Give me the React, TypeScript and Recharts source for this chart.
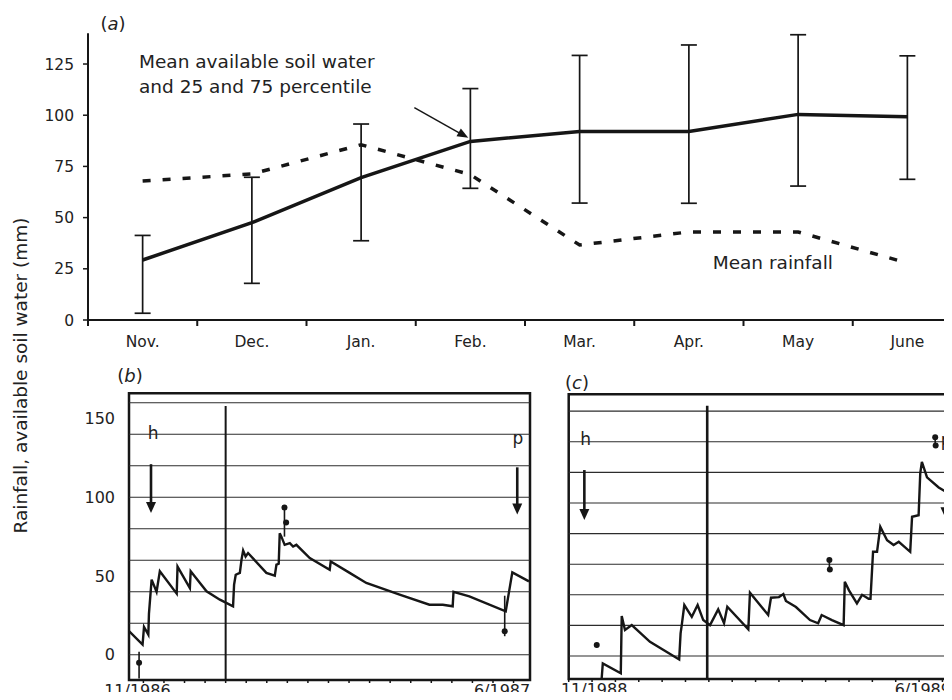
import React from "react";
import {
  ComposedChart,
  LineChart,
  Line,
  XAxis,
  YAxis,
  ErrorBar,
  ReferenceLine,
  ReferenceDot,
  ReferenceArea,
} from "recharts";

const FONT = "'DejaVu Sans', 'Liberation Sans', sans-serif";
const INK = "#161616";
const TXT = "#222";

// (a) monthly means, Nov..June
const months = ["Nov.", "Dec.", "Jan.", "Feb.", "Mar.", "Apr.", "May", "June"];
const meanSoilWater = [29.3, 47.5, 69.5, 87.2, 92.1, 92.1, 100.4, 99.3];
const soilWaterP25 = [3.3, 17.9, 38.7, 64.3, 57.1, 57, 65.4, 68.7];
const soilWaterP75 = [41.3, 69.7, 95.7, 113, 129.2, 134.3, 139.3, 129];
const meanRainfall = [67.9, 71.3, 85.6, 71, 36.6, 43, 43, 27.8];
const aYTicks = [0, 25, 50, 75, 100, 125];
const aXTicks = [0, 0.5, 1, 1.5, 2, 2.5, 3, 3.5, 4, 4.5, 5, 5.5, 6, 6.5, 7, 7.5, 8];

// (b) season 11/1986 - 6/1987 (days from start)
const bDays = [
  0, 6.6, 7.3, 9.4, 9.7, 11, 13.4, 15, 23.2, 23.6, 29.6, 30, 37.7, 44.2, 50.6,
  51.1, 51.9, 53.9, 54.7, 55.5, 56.7, 57.9, 66.8, 70.9, 71.7, 72.8, 73.3, 74.1,
  75.7, 78.2, 79.8, 81.4, 87.9, 97.6, 98.1, 107.3, 115.4, 131.6, 146.1, 152.6,
  157.4, 157.8, 165.5, 183.2, 186.4, 194.5,
];
const bSoilWater = [
  15, 6.5, 17.7, 12.8, 26, 47.7, 40, 53, 38.8, 56, 42.4, 53, 40.3, 35, 30.8,
  44.5, 50.8, 52, 60.3, 66.2, 62.4, 64.6, 52, 50.2, 57.2, 57.8, 77.2, 75,
  69.8, 70.9, 68.7, 69.8, 61.4, 54, 59.2, 52, 45.6, 38.2, 31.8, 31.8,
  30.8, 40, 37.1, 27.6, 52.3, 46.6,
];
const bObsDays = [4.9, 75.6, 76.4, 182.7];
const bObsValues = [-5, 93.5, 84, 15];
const bObsLow = [-15, 75, 84, 11.8];
const bObsHigh = [2, 93.5, 84, 37.5];
const bArrowDays = [10.7, 188.8];
const bArrowTop = [121, 119];
const bArrowTip = [90, 89];
const bLabelDays = [11.7, 189.1];
const bLabelValues = [137, 134];
const bLabels = ["h", "p"];
const bMinorTicks = [7, 17, 27, 37, 47, 57, 67, 77, 87, 97, 107, 117, 127, 137, 147, 157, 167, 177, 187];
const bDateDays = [4.1, 181.4];
const bDateLabels = ["11/1986", "6/1987"];
const bYTicks = [0, 50, 100, 150];

// (c) season 11/1988 - 6/1989 (days from start)
const cDays = [
  14.1, 14.6, 22.3, 22.7, 24.1, 27, 34.8, 47.3, 47.9, 48.4, 49.5, 52.7, 55.2,
  57.6, 60.5, 64, 66.5, 67.9, 76.9, 77.6, 85.4, 86.6, 90, 91.9, 93, 97.3,
  103.3, 106.8, 108.3, 112.7, 117.7, 118.2, 120, 123.4, 125.6, 128.4, 129.2,
  130.3, 132, 133.4, 136.3, 139.1, 141.3, 146.2, 147, 149.8, 150.5, 151.2,
  153.4, 158.4, 164.1, 170,
];
const cSoilWater = [
  -15, -4.8, -11.3, 26.1, 17, 20.2, 9.3, -2.2, 14.8, 20.2, 33.3, 25.6, 33.3,
  23.5, 20.2, 30.5, 21.4, 32.2, 17.4, 41.4, 26.8, 38.1, 38.5, 40.5, 36, 32,
  23.5, 21.4, 26.8, 23.5, 20.2, 48.5, 42.9, 34.4, 40, 37.4, 37.4,
  68.1, 68.1, 84.4, 75.7, 72.5, 74.6, 68.1, 91, 92, 119.3, 126.9,
  116.7, 110.1, 105, 102,
];
const cObsDays = [12, 111.6, 111.8, 156.9, 157.1];
const cObsValues = [7.2, 62.7, 56.5, 143, 137.5];
const cObsLow = [5.7, 56.5, 56.5, 137.5, 137.5];
const cObsHigh = [8.7, 62.7, 56.5, 143, 137.5];
const cArrowDays = [6.7, 161.3];
const cArrowTop = [121.5, 121];
const cArrowTip = [88.8, 90];
const cLabelDays = [7.3, 161.6];
const cLabelValues = [137.8, 137];
const cLabels = ["h", "p"];
const cMinorTicks = [0, 10, 20, 30, 40, 50, 60, 70, 80, 90, 100, 110, 120, 130, 140, 150, 160, 170, 180, 190];
const cDateDays = [10.9, 151.6];
const cDateLabels = ["11/1988", "6/1989"];

const gridValues = [0, 20, 40, 60, 80, 100, 120, 140, 160];

const aData = months.map((m, i) => ({
  x: i + 0.5,
  month: m,
  mean: meanSoilWater[i],
  rain: meanRainfall[i],
  err: [meanSoilWater[i] - soilWaterP25[i], soilWaterP75[i] - meanSoilWater[i]],
}));

function MonthTick(props: any) {
  const { x, y, payload } = props;
  const v = payload.value;
  if (Number.isInteger(v)) {
    return <line x1={x} x2={x} y1={y} y2={y + 6} stroke={INK} strokeWidth={2} />;
  }
  return (
    <text x={x} y={y + 27} textAnchor="middle" fontSize={15.5} fill={TXT}>
      {months[Math.floor(v)]}
    </text>
  );
}

const downHead = (p: any) => (
  <polygon points={`${p.cx - 5},${p.cy - 11} ${p.cx + 5},${p.cy - 11} ${p.cx},${p.cy}`} fill={INK} />
);

function PanelA() {
  return (
    <div style={{ position: "absolute", left: 0, top: 0 }}>
      <LineChart width={962} height={360} data={aData} margin={{ top: 33.3, right: 0, bottom: 0, left: 0 }}>
        <XAxis
          type="number"
          dataKey="x"
          domain={[0, 8]}
          ticks={aXTicks}
          interval={0}
          height={40}
          tickSize={0}
          tickMargin={0}
          tickLine={false}
          axisLine={{ stroke: INK, strokeWidth: 2 }}
          tick={(p: any) => <MonthTick {...p} />}
        />
        <YAxis
          type="number"
          domain={[0, 140]}
          ticks={aYTicks}
          width={88}
          tickSize={5}
          tickMargin={9}
          axisLine={{ stroke: INK, strokeWidth: 2 }}
          tickLine={{ stroke: INK, strokeWidth: 1.5 }}
          tick={{ fontSize: 15.5, fill: TXT }}
        />
        <Line
          dataKey="rain"
          type="linear"
          stroke={INK}
          strokeWidth={3.5}
          strokeDasharray="8 12"
          dot={false}
          isAnimationActive={false}
        />
        <Line dataKey="mean" type="linear" stroke={INK} strokeWidth={3.5} dot={false} isAnimationActive={false}>
          <ErrorBar dataKey="err" direction="y" width={8} stroke={INK} strokeWidth={1.7} isAnimationActive={false} />
        </Line>
        <ReferenceLine
          segment={[
            { x: 2.987, y: 103.7 },
            { x: 3.45, y: 89.8 },
          ]}
          stroke={INK}
          strokeWidth={1.5}
        />
        <ReferenceDot
          x={3.481}
          y={89}
          shape={(p: any) => (
            <polygon points="0,0 -11,-4.5 -11,4.5" fill={INK} transform={`translate(${p.cx},${p.cy}) rotate(29)`} />
          )}
        />
      </LineChart>
    </div>
  );
}

function TracePanel(props: any) {
  const {
    left, width, marginLeft, marginTop, xAxisHeight, yDomain, yTicks, yAxisWidth,
    days, values, obsDays, obsValues, obsLow, obsHigh,
    arrowDays, arrowTop, arrowTip, labelDays, labelValues, labels,
    minorTicks, dateDays, dateLabels, labelDy, vline, vlineTop, vlineWidth,
  } = props;
  const series = days.map((d: number, i: number) => ({ d, v: values[i] }));
  const obs = obsDays.map((d: number, i: number) => ({
    d,
    v: obsValues[i],
    err: [obsValues[i] - obsLow[i], obsHigh[i] - obsValues[i]],
  }));
  const ticks = [...minorTicks, ...dateDays].sort((a, b) => a - b);
  const dateTick = (p: any) => {
    const idx = dateDays.indexOf(p.payload.value);
    if (idx >= 0) {
      return (
        <text x={p.x} y={p.y + labelDy} textAnchor="middle" fontSize={16} fill={TXT}>
          {dateLabels[idx]}
        </text>
      );
    }
    return <line x1={p.x} x2={p.x} y1={p.y - 1} y2={p.y + 3} stroke={INK} strokeWidth={1.5} />;
  };
  return (
    <div style={{ position: "absolute", left, top: 340 }}>
      <ComposedChart width={width} height={360} margin={{ top: marginTop, right: 10, bottom: 0, left: marginLeft }}>
        <XAxis
          type="number"
          dataKey="d"
          domain={[0, 195]}
          ticks={ticks}
          interval={0}
          height={xAxisHeight}
          axisLine={false}
          tickLine={false}
          tickSize={0}
          tickMargin={0}
          tick={dateTick}
          allowDataOverflow
        />
        <YAxis
          type="number"
          dataKey="v"
          domain={yDomain}
          ticks={yTicks || []}
          hide={!yTicks}
          width={yAxisWidth}
          axisLine={false}
          tickLine={false}
          tickSize={6}
          tickMargin={8}
          tick={{ fontSize: 16, fill: TXT }}
          allowDataOverflow
        />
        {gridValues.map((g) => (
          <ReferenceLine key={g} y={g} stroke="#2c2c2c" strokeWidth={1.1} />
        ))}
        <ReferenceArea x1={0} x2={195} y1={yDomain[0]} y2={yDomain[1]} fill="none" stroke={INK} strokeWidth={2.5} />
        <ReferenceLine
          segment={[
            { x: vline, y: vlineTop },
            { x: vline, y: yDomain[0] },
          ]}
          stroke={INK}
          strokeWidth={vlineWidth}
        />
        {arrowDays.map((d: number, i: number) => (
          <ReferenceLine
            key={`a${i}`}
            segment={[
              { x: d, y: arrowTop[i] },
              { x: d, y: arrowTip[i] + 5 },
            ]}
            stroke={INK}
            strokeWidth={2.6}
          />
        ))}
        {arrowDays.map((d: number, i: number) => (
          <ReferenceDot key={`h${i}`} x={d} y={arrowTip[i]} shape={downHead} />
        ))}
        {labelDays.map((d: number, i: number) => (
          <ReferenceDot
            key={`l${i}`}
            x={d}
            y={labelValues[i]}
            shape={(p: any) => (
              <text x={p.cx} y={p.cy} textAnchor="middle" fontSize={17} fill={TXT}>
                {labels[i]}
              </text>
            )}
          />
        ))}
        <Line data={series} dataKey="v" type="linear" stroke={INK} strokeWidth={2.4} dot={false} isAnimationActive={false} />
        <Line
          data={obs}
          dataKey="v"
          type="linear"
          stroke="none"
          dot={{ r: 3, fill: INK, stroke: INK, strokeWidth: 0 }}
          isAnimationActive={false}
        >
          <ErrorBar dataKey="err" direction="y" width={0} stroke={INK} strokeWidth={1.6} isAnimationActive={false} />
        </Line>
      </ComposedChart>
    </div>
  );
}

export default function App() {
  return (
    <div
      style={{
        position: "relative",
        width: 952,
        height: 700,
        margin: -8,
        overflow: "hidden",
        background: "#fff",
        fontFamily: FONT,
      }}
    >
      <PanelA />
      <TracePanel
        left={0}
        width={540}
        marginLeft={0}
        marginTop={53.3}
        xAxisHeight={20}
        yDomain={[-16, 166]}
        yTicks={bYTicks}
        yAxisWidth={129}
        days={bDays}
        values={bSoilWater}
        obsDays={bObsDays}
        obsValues={bObsValues}
        obsLow={bObsLow}
        obsHigh={bObsHigh}
        arrowDays={bArrowDays}
        arrowTop={bArrowTop}
        arrowTip={bArrowTip}
        labelDays={bLabelDays}
        labelValues={bLabelValues}
        labels={bLabels}
        minorTicks={bMinorTicks}
        dateDays={bDateDays}
        dateLabels={bDateLabels}
        labelDy={15.5}
        vline={47}
        vlineTop={158}
        vlineWidth={2}
      />
      <TracePanel
        left={540}
        width={494.2}
        marginLeft={28.7}
        marginTop={54.3}
        xAxisHeight={21}
        yDomain={[-15, 171]}
        yTicks={null}
        yAxisWidth={0}
        days={cDays}
        values={cSoilWater}
        obsDays={cObsDays}
        obsValues={cObsValues}
        obsLow={cObsLow}
        obsHigh={cObsHigh}
        arrowDays={cArrowDays}
        arrowTop={cArrowTop}
        arrowTip={cArrowTip}
        labelDays={cLabelDays}
        labelValues={cLabelValues}
        labels={cLabels}
        minorTicks={cMinorTicks}
        dateDays={cDateDays}
        dateLabels={cDateLabels}
        labelDy={16.5}
        vline={59.3}
        vlineTop={163.5}
        vlineWidth={2.6}
      />
      <svg
        width={952}
        height={700}
        style={{ position: "absolute", left: 0, top: 0, pointerEvents: "none" }}
        fontFamily={FONT}
      >
        <text x={113} y={30} textAnchor="middle" fontSize={18} fill={TXT}>
          (<tspan fontStyle="italic">a</tspan>)
        </text>
        <text x={130} y={382} textAnchor="middle" fontSize={18} fill={TXT}>
          (<tspan fontStyle="italic">b</tspan>)
        </text>
        <text x={577} y={389} textAnchor="middle" fontSize={18} fill={TXT}>
          (<tspan fontStyle="italic">c</tspan>)
        </text>
        <text x={139} y={68} fontSize={18.5} fill={TXT}>
          Mean available soil water
        </text>
        <text x={139} y={93.3} fontSize={18.5} fill={TXT}>
          and 25 and 75 percentile
        </text>
        <text x={712.7} y={269} fontSize={18.5} fill={TXT}>
          Mean rainfall
        </text>
        <text transform="translate(27,375.5) rotate(-90)" textAnchor="middle" fontSize={18.5} fill={TXT}>
          Rainfall, available soil water (mm)
        </text>
      </svg>
    </div>
  );
}
